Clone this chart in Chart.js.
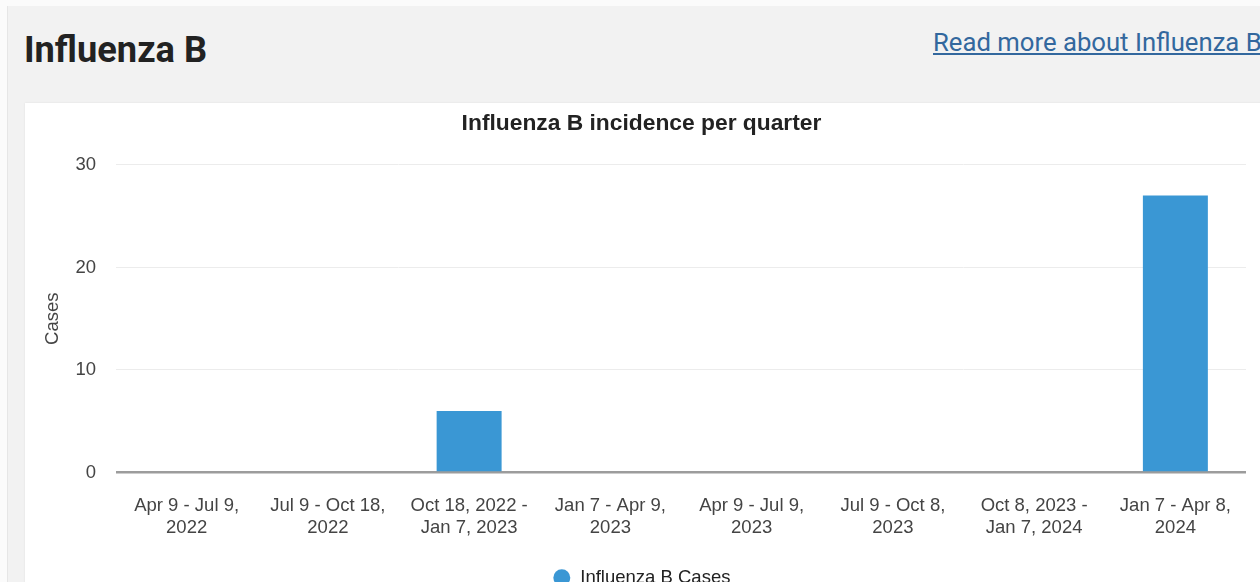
<!DOCTYPE html>
<html>
<head>
<meta charset="utf-8">
<script src="https://cdn.jsdelivr.net/npm/chart.js@4.4.0/dist/chart.umd.min.js"></script>
<style>
  html, body { margin: 0; padding: 0; width: 1260px; height: 582px; overflow: hidden; background: #fbfbfb; }
  #page { position: absolute; left: 7px; top: 6px; width: 1300px; height: 700px; background: #f2f2f2; border-left: 1px solid #e6e6e6; }
  #heading { position: absolute; left: 24px; top: 31.5px; margin: 0; font: bold 36.2px/1 Roboto, sans-serif; color: #222; white-space: nowrap; }
  #link { position: absolute; left: 933px; top: 30px; font: 25.7px/1 Roboto, sans-serif; color: #33689e; text-decoration: underline; white-space: nowrap; }
  #card { position: absolute; left: 25px; top: 103px; width: 1300px; height: 600px; background: #fff; box-shadow: 0 0 2px rgba(0,0,0,0.08); }
  #wrap { position: absolute; left: 25px; top: 103px; width: 1235px; height: 494px; }
</style>
</head>
<body>
<div id="page"></div>
<h1 id="heading">Influenza B</h1>
<a id="link" href="#">Read more about Influenza B</a>
<div id="card"></div>
<div id="wrap"><canvas id="c" width="1235" height="494"></canvas></div>
<script>
const categories = [
  ["Apr 9 - Jul 9,", "2022"],
  ["Jul 9 - Oct 18,", "2022"],
  ["Oct 18, 2022 -", "Jan 7, 2023"],
  ["Jan 7 - Apr 9,", "2023"],
  ["Apr 9 - Jul 9,", "2023"],
  ["Jul 9 - Oct 8,", "2023"],
  ["Oct 8, 2023 -", "Jan 7, 2024"],
  ["Jan 7 - Apr 8,", "2024"]
];
const caseValues = [0, 0, 6, 0, 0, 0, 0, 27];
const yTicks = [0, 10, 20, 30];
const seriesName = "Influenza B Cases";
const chartTitle = "Influenza B incidence per quarter";
const yTitle = "Cases";

const FONT = "'Liberation Sans', Arial, sans-serif";

new Chart(document.getElementById('c'), {
  type: 'bar',
  data: {
    labels: categories,
    datasets: [{
      label: seriesName,
      data: caseValues,
      backgroundColor: '#3a97d4',
      borderWidth: 0,
      categoryPercentage: 1,
      barPercentage: 0.46
    }]
  },
  options: {
    responsive: false,
    animation: false,
    layout: { padding: { left: 0, right: 2, top: 0, bottom: 0 } },
    plugins: {
      title: {
        display: true,
        text: chartTitle,
        color: '#222',
        font: { family: FONT, size: 22.8, weight: 'bold', lineHeight: 1.2 },
        padding: { top: 7, bottom: 27.5 }
      },
      legend: {
        position: 'bottom',
        labels: {
          usePointStyle: true,
          pointStyle: 'circle',
          boxWidth: 19,
          boxHeight: 12,
          color: '#222',
          padding: 10,
          font: { family: FONT, size: 18.5 }
        }
      },
      tooltip: { enabled: false }
    },
    scales: {
      x: {
        grid: { display: false, drawTicks: false },
        border: { display: false },
        ticks: {
          color: '#444',
          padding: 22,
          maxRotation: 0,
          autoSkip: false,
          font: { family: FONT, size: 18.5, lineHeight: '22px' }
        },
        afterFit: (s) => { s.height = 86; }
      },
      y: {
        min: 0,
        max: 30,
        afterBuildTicks: (s) => { s.ticks = yTicks.map(v => ({ value: v })); },
        grid: {
          drawTicks: false,
          color: (ctx) => ctx.tick && ctx.tick.value === 0 ? '#9c9c9c' : '#ececec',
          lineWidth: (ctx) => ctx.tick && ctx.tick.value === 0 ? 2.5 : 1
        },
        border: { display: false },
        ticks: {
          color: '#444',
          padding: 20,
          font: { family: FONT, size: 18.5 }
        },
        title: {
          display: true,
          text: yTitle,
          color: '#444',
          padding: { top: 17, bottom: 0 },
          font: { family: FONT, size: 18.5, lineHeight: '22px' }
        },
        afterFit: (s) => { s.width = 91; }
      },
      yRightSpace: {
        position: 'right',
        min: 0,
        max: 30,
        grid: { display: false, drawTicks: false },
        border: { display: false },
        ticks: { display: false },
        afterFit: (s) => { s.width = 12; }
      }
    }
  }
});
</script>
</body>
</html>
